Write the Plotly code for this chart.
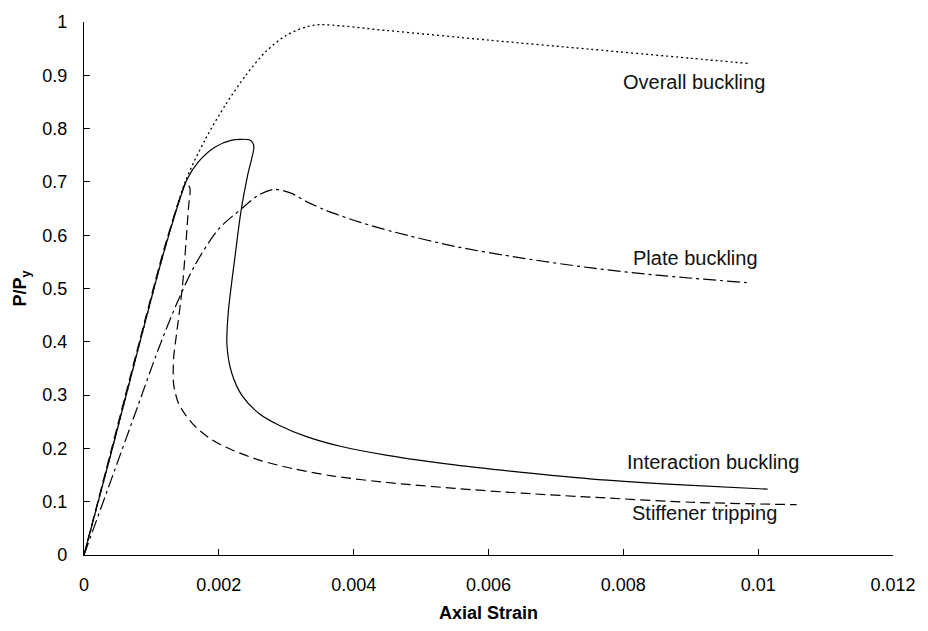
import plotly.graph_objects as go

# ---------------- data ----------------
overall_x = [0, 0.0004, 0.0008, 0.0012, 0.0015, 0.0018, 0.0021, 0.0024, 0.0027,
             0.003, 0.0033, 0.0035, 0.0045, 0.006, 0.0075, 0.009, 0.00987]
overall_y = [0, 0.19, 0.385, 0.575, 0.70, 0.78, 0.845, 0.90, 0.945,
             0.975, 0.991, 0.995, 0.984, 0.966, 0.949, 0.932, 0.922]

inter_x = [0, 0.0004, 0.0008, 0.0012, 0.00153, 0.0017, 0.00194, 0.00218, 0.00245, 0.0025,
           0.00252, 0.00243, 0.00233, 0.00224, 0.00214, 0.00212, 0.00219, 0.00235, 0.0026,
           0.0029, 0.0033, 0.0038, 0.0045, 0.0055, 0.0065, 0.0075, 0.0088, 0.01014]
inter_y = [0, 0.19, 0.385, 0.575, 0.705, 0.738, 0.765, 0.778, 0.779, 0.774,
           0.765, 0.714, 0.646, 0.56, 0.455, 0.395, 0.342, 0.298, 0.265,
           0.243, 0.222, 0.204, 0.187, 0.169, 0.155, 0.143, 0.132, 0.1235]

stiff_x = [0, 0.0004, 0.0008, 0.0012, 0.00145, 0.00151, 0.00157, 0.00155, 0.00146,
           0.00137, 0.00133, 0.00133, 0.0014, 0.0015, 0.00165, 0.0019, 0.0022,
           0.0026, 0.0031, 0.0037, 0.0045, 0.0055, 0.0065, 0.0076, 0.009, 0.01057]
stiff_y = [0, 0.195, 0.39, 0.58, 0.68, 0.698, 0.689, 0.652, 0.504,
           0.412, 0.37, 0.32, 0.285, 0.264, 0.241, 0.216, 0.197,
           0.178, 0.162, 0.148, 0.136, 0.125, 0.116, 0.108, 0.099, 0.0944]

plate_x = [0, 0.0004, 0.0008, 0.0011, 0.00137, 0.00165, 0.002, 0.00233, 0.0026, 0.00282,
           0.00307, 0.0033, 0.0036, 0.0041, 0.0046, 0.0055, 0.0065, 0.0075, 0.0085, 0.00983]
plate_y = [0, 0.14, 0.28, 0.385, 0.47, 0.545, 0.612, 0.649, 0.676, 0.686,
           0.679, 0.663, 0.646, 0.624, 0.606, 0.579, 0.557, 0.539, 0.525, 0.511]

x_ticks = [0, 0.002, 0.004, 0.006, 0.008, 0.010, 0.012]
x_tick_text = ["0", "0.002", "0.004", "0.006", "0.008", "0.01", "0.012"]
y_ticks = [0, 0.1, 0.2, 0.3, 0.4, 0.5, 0.6, 0.7, 0.8, 0.9, 1.0]
y_tick_text = ["0", "0.1", "0.2", "0.3", "0.4", "0.5", "0.6", "0.7", "0.8", "0.9", "1"]

labels = ["Overall buckling", "Plate buckling", "Interaction buckling", "Stiffener tripping"]
label_x = [0.00905, 0.00907, 0.00933, 0.00921]
label_y = [0.887, 0.557, 0.174, 0.0796]

# ---------------- figure ----------------
FONT = "Liberation Sans, Arial, sans-serif"

fig = go.Figure()
fig.add_trace(go.Scatter(x=overall_x, y=overall_y, mode="lines", line_shape="spline",
                         line=dict(color="black", width=1.3, dash="2px,3px", smoothing=0.8),
                         name="Overall buckling"))
fig.add_trace(go.Scatter(x=plate_x, y=plate_y, mode="lines", line_shape="spline",
                         line=dict(color="black", width=1.2, dash="13px,4px,3px,4px", smoothing=0.8),
                         name="Plate buckling"))
fig.add_trace(go.Scatter(x=inter_x, y=inter_y, mode="lines", line_shape="spline",
                         line=dict(color="black", width=1.2, smoothing=0.8),
                         name="Interaction buckling"))
fig.add_trace(go.Scatter(x=stiff_x, y=stiff_y, mode="lines", line_shape="spline",
                         line=dict(color="black", width=1.2, dash="10px,5px", smoothing=0.8),
                         name="Stiffener tripping"))

for t, xx, yy in zip(labels, label_x, label_y):
    fig.add_annotation(x=xx, y=yy, text=t, showarrow=False, xanchor="center", yanchor="middle",
                       font=dict(family=FONT, size=20, color="#111"))

fig.update_layout(
    width=928, height=631,
    margin=dict(l=84, r=25, t=19, b=72),
    paper_bgcolor="white", plot_bgcolor="white",
    showlegend=False,
    font=dict(family=FONT, color="black"),
)
fig.update_xaxes(range=[0, 0.012], tickvals=x_ticks, ticktext=x_tick_text,
                 showgrid=False, zeroline=False, showline=True, linecolor="black", linewidth=1.2,
                 ticks="inside", ticklen=6, tickcolor="black", tickwidth=1.2,
                 tickfont=dict(family=FONT, size=18), ticklabelstandoff=13,
                 title=dict(text="<b>Axial Strain</b>", font=dict(family=FONT, size=18), standoff=12))
fig.update_yaxes(range=[0, 1], tickvals=y_ticks, ticktext=y_tick_text,
                 showgrid=False, zeroline=False, showline=True, linecolor="black", linewidth=1.2,
                 ticks="inside", ticklen=6, tickcolor="black", tickwidth=1.2,
                 tickfont=dict(family=FONT, size=18), ticklabelstandoff=12,
                 title=dict(text="<b>P/P<sub>y</sub></b>", font=dict(family=FONT, size=18), standoff=10))

fig.write_html("out.html")
